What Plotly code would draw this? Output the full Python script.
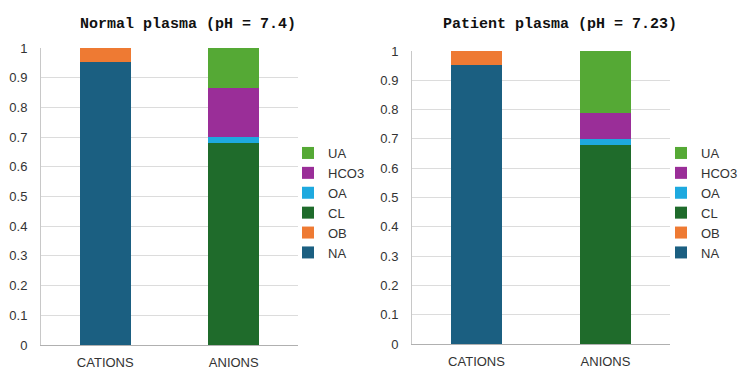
import plotly.graph_objects as go

categories = ["CATIONS", "ANIONS"]
series_names = ["NA", "OB", "CL", "OA", "HCO3", "UA"]
colors = {"NA": "#1b5f81", "OB": "#ee7a33", "CL": "#1f6b2b",
          "OA": "#1ea9df", "HCO3": "#9a2e98", "UA": "#55a935"}

# values per series: [CATIONS, ANIONS]
normal = {"NA": [0.952, 0], "OB": [0.048, 0], "CL": [0, 0.68],
          "OA": [0, 0.02], "HCO3": [0, 0.164], "UA": [0, 0.136]}
patient = {"NA": [0.951, 0], "OB": [0.049, 0], "CL": [0, 0.68],
           "OA": [0, 0.02], "HCO3": [0, 0.088], "UA": [0, 0.212]}

titles = ["Normal plasma (pH = 7.4)", "Patient plasma (pH = 7.23)"]
y_ticks = [0, 0.1, 0.2, 0.3, 0.4, 0.5, 0.6, 0.7, 0.8, 0.9, 1]
y_ticktext = ["0", "0.1", "0.2", "0.3", "0.4", "0.5", "0.6", "0.7", "0.8", "0.9", "1"]

W, H = 750, 387
fig = go.Figure()

for i, data in enumerate([normal, patient]):
    xa = "x" if i == 0 else "x2"
    ya = "y" if i == 0 else "y2"
    leg = "legend" if i == 0 else "legend2"
    for name in series_names:
        fig.add_trace(go.Bar(
            x=categories, y=data[name], name=name,
            marker=dict(color=colors[name], line=dict(width=0)),
            xaxis=xa, yaxis=ya, legend=leg, showlegend=True,
        ))

axis_font = dict(family="Liberation Sans, Arial, sans-serif", size=13, color="#333333")
common_x = dict(showgrid=False, showline=True, linecolor="#b0b0b0", linewidth=1,
                ticks="", tickfont=axis_font, fixedrange=True, automargin=False,
                ticklabelstandoff=5)
common_y = dict(range=[0, 1], tickvals=y_ticks, ticktext=y_ticktext, showgrid=True,
                gridcolor="#dcdcdc", gridwidth=1, showline=True, linecolor="#c8c8c8",
                linewidth=1, zeroline=False, ticks="", tickfont=axis_font, fixedrange=True,
                automargin=False, ticklabelstandoff=10)

legend_common = dict(font=dict(family="Liberation Sans, Arial, sans-serif", size=13, color="#333333"),
                     traceorder="reversed", bgcolor="rgba(0,0,0,0)", itemwidth=30,
                     xanchor="left", yanchor="top", tracegroupgap=0)

fig.update_layout(
    width=W, height=H, margin=dict(l=0, r=0, t=0, b=0),
    paper_bgcolor="white", plot_bgcolor="white",
    barmode="stack", bargap=0.6,
    xaxis=dict(domain=[41 / W, 298 / W], anchor="y", **common_x),
    yaxis=dict(domain=[1 - 345 / H, 1 - 48 / H], anchor="x", **common_y),
    xaxis2=dict(domain=[412 / W, 670 / W], anchor="y2", **common_x),
    yaxis2=dict(domain=[1 - 344 / H, 1 - 51 / H], anchor="x2", **common_y),
    legend=dict(x=288 / W, y=1 - 138 / H, **legend_common),
    legend2=dict(x=661 / W, y=1 - 138 / H, **legend_common),
    annotations=[
        dict(text="<b>" + titles[0] + "</b>", x=188 / W, y=1 - 24 / H, xref="paper", yref="paper",
             showarrow=False, xanchor="center", yanchor="middle",
             font=dict(family="Liberation Mono, Courier New, monospace", size=15, color="#111111")),
        dict(text="<b>" + titles[1] + "</b>", x=560 / W, y=1 - 25 / H, xref="paper", yref="paper",
             showarrow=False, xanchor="center", yanchor="middle",
             font=dict(family="Liberation Mono, Courier New, monospace", size=15, color="#111111")),
    ],
)

fig.write_html("out.html")
